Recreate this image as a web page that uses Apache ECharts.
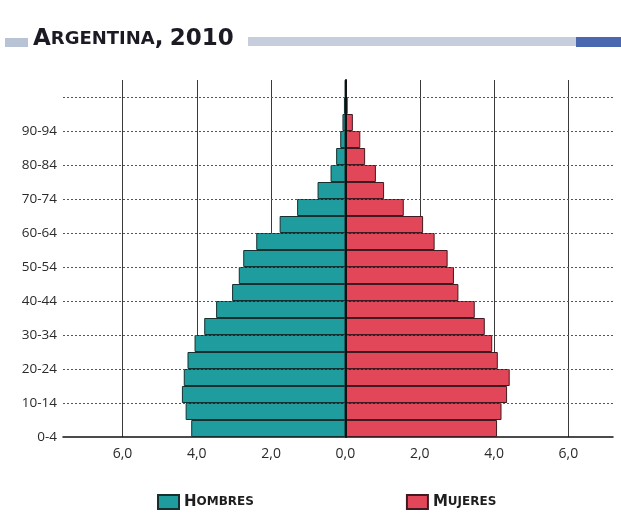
<!DOCTYPE html>
<html>
<head>
<meta charset="utf-8">
<script src="https://cdn.jsdelivr.net/npm/echarts@6/dist/echarts.min.js"></script>
<style>
html,body{margin:0;padding:0;background:#ffffff;}
#chart{width:621px;height:524px;}
</style>
</head>
<body>
<div id="chart"></div>
<script>
// Age groups (bottom to top)
const ageGroups = ['0-4','5-9','10-14','15-19','20-24','25-29','30-34','35-39','40-44','45-49','50-54','55-59','60-64','65-69','70-74','75-79','80-84','85-89','90-94','95-99','100+'];
// Percent of total population
const hombres = [4.15, 4.30, 4.40, 4.35, 4.25, 4.06, 3.80, 3.48, 3.05, 2.87, 2.75, 2.40, 1.77, 1.30, 0.75, 0.40, 0.25, 0.14, 0.08, 0.04, 0.01];
const mujeres = [4.08, 4.20, 4.35, 4.42, 4.10, 3.95, 3.75, 3.48, 3.04, 2.92, 2.75, 2.40, 2.09, 1.57, 1.04, 0.82, 0.53, 0.40, 0.20, 0.06, 0.01];
const seriesNames = ['Hombres', 'Mujeres'];
const titleText = 'Argentina, 2010';

const chart = echarts.init(document.getElementById('chart'), null, {renderer: 'canvas'});

function smallCaps(str, bigKey, smallKey) {
  let out = '';
  for (const ch of str) {
    if (ch === ' ') { out += '{' + smallKey + '| }'; continue; }
    const up = ch.toUpperCase();
    const isBig = (ch === up);
    out += '{' + (isBig ? bigKey : smallKey) + '|' + up + '}';
  }
  return out;
}

const fontFam = '"Open Sans", "DejaVu Sans", sans-serif';
const capsFam = '"DejaVu Sans", "Open Sans", sans-serif';

chart.setOption({
  backgroundColor: '#ffffff',
  animation: false,
  title: {
    text: smallCaps(titleText, 'b', 's'),
    left: 28,
    top: 23,
    textStyle: {
      rich: {
        b: {fontSize: 23, fontWeight: 'bold', color: '#1b1b24', fontFamily: capsFam},
        s: {fontSize: 18, fontWeight: 'bold', color: '#1b1b24', fontFamily: capsFam}
      }
    }
  },
  graphic: [
    {type: 'rect', left: 5, top: 38, shape: {width: 23, height: 9}, style: {fill: '#b9c3d6'}, silent: true},
    {type: 'rect', left: 248, top: 37, shape: {width: 328, height: 9}, style: {fill: '#c6cddc'}, silent: true},
    {type: 'rect', left: 576, top: 37, shape: {width: 45, height: 10}, style: {fill: '#4a68b0'}, silent: true}
  ],
  legend: {
    data: seriesNames,
    left: 152,
    top: 489,
    itemWidth: 21,
    itemHeight: 14,
    itemGap: 152,
    icon: 'rect',
    formatter: function (name) { return smallCaps(name, 'b', 's'); },
    textStyle: {
      rich: {
        b: {fontSize: 15, fontWeight: 'bold', color: '#1e1e1e', fontFamily: capsFam},
        s: {fontSize: 12, fontWeight: 'bold', color: '#1e1e1e', fontFamily: capsFam}
      }
    }
  },
  grid: {left: 63, right: 8, top: 80, bottom: 87, containLabel: false},
  xAxis: {
    type: 'value',
    min: -7.6,
    max: 7.2,
    minInterval: 2,
    maxInterval: 2,
    splitNumber: 7,
    axisLine: {show: true, onZero: false, lineStyle: {color: '#111', width: 1.5}},
    axisTick: {show: false},
    axisLabel: {
      showMinLabel: false,
      showMaxLabel: false,
      margin: 10,
      fontSize: 14,
      color: '#2a2a2a',
      fontFamily: fontFam,
      formatter: function (v) {
        if (Math.abs(v % 2) > 1e-6) return '';
        return Math.abs(v).toFixed(1).replace('.', ',');
      }
    },
    splitLine: {show: true, showMinLine: false, showMaxLine: false, lineStyle: {color: '#3a3a3a', width: 1}}
  },
  yAxis: [
    {
      type: 'category',
      data: ageGroups,
      axisLine: {show: true, onZero: true, lineStyle: {color: '#111', width: 2}},
      axisTick: {show: false},
      axisLabel: {show: false},
      splitLine: {
        show: true,
        showMinLine: false,
        showMaxLine: false,
        interval: function (index) { return index % 2 === 0; },
        lineStyle: {color: '#555', width: 1, type: [2, 2]}
      },
      z: 5
    },
    {
      type: 'category',
      data: ageGroups,
      position: 'left',
      axisLine: {show: false, onZero: false},
      axisTick: {show: false},
      splitLine: {show: false},
      axisLabel: {
        interval: function (index) { return index % 2 === 0 && index < ageGroups.length - 1; },
        margin: 6,
        fontSize: 13.5,
        color: '#2a2a2a',
        fontFamily: fontFam,
        verticalAlign: 'top',
        lineHeight: 18
      }
    }
  ],
  series: [
    {
      name: seriesNames[0],
      type: 'bar',
      yAxisIndex: 0,
      data: hombres.map(v => -v),
      barGap: '-100%',
      barCategoryGap: 0,
      itemStyle: {color: '#1f9c9d', borderColor: '#163030', borderWidth: 1}
    },
    {
      name: seriesNames[1],
      type: 'bar',
      yAxisIndex: 0,
      data: mujeres,
      barGap: '-100%',
      barCategoryGap: 0,
      itemStyle: {color: '#e24659', borderColor: '#401a20', borderWidth: 1}
    }
  ]
});
</script>
</body>
</html>
